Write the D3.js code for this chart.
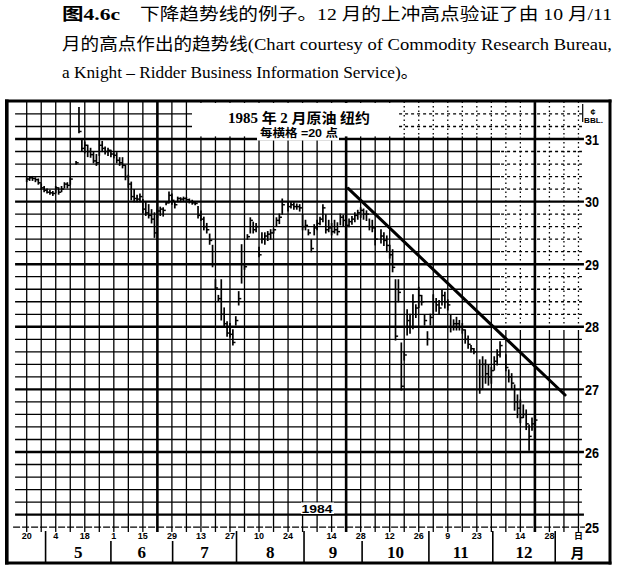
<!DOCTYPE html>
<html><head><meta charset="utf-8">
<script src="https://cdn.jsdelivr.net/npm/d3@7/dist/d3.min.js"></script>
<style>html,body{margin:0;padding:0;background:#fff;}svg{display:block}</style>
</head><body>
<svg id="chart" width="625" height="572"></svg>
<script>
// ---------------- data ----------------
const captionHead = "图4.6c";
const captionLine1 = "下降趋势线的例子。12 月的上冲高点验证了由 10 月/11";
const captionLine2 = "月的高点作出的趋势线(Chart courtesy of Commodity Research Bureau,";
const captionLine3 = "a Knight – Ridder Business Information Service)。";
const chartTitle = "1985 年 2 月原油 纽约";
const chartSubtitle = "每横格 =20 点";
const unitTop = "¢";
const unitBottom = "BBL.";
const yearLabel = "1984";
const priceTicks = [31, 30, 29, 28, 27, 26, 25];
const dayTickWeeks = [0, 2, 4, 6, 8, 10, 12, 14, 16, 18, 21, 23, 25, 27, 29, 31, 34, 36];
const dayTickLabels = ["20","4","18","1","15","29","13","27","10","24","14","28","12","26","9","23","14","28"];
const monthBounds = [1.3, 5.8, 10.05, 14.45, 19.1, 23.1, 27.7, 32.1, 36.4]; // in weeks
const monthLabels = ["5","6","7","8","9","10","11","12"];
const dayUnit = "日";
const monthUnit = "月";

// daily bars, index = trading day (null = no bar)
const highs = [
 30.38,30.40,30.40,30.38,30.36,30.28,30.24,30.20,30.18,30.16,
 30.24,30.22,30.24,30.30,30.30,30.38,null,
 30.64,31.50,30.98,
 30.95,30.90,30.85,30.79,30.75,30.98,30.96,30.87,30.85,30.82,
 30.78,30.78,30.70,30.70,30.58,30.42,30.31,30.19,30.10,30.12,
 30.03,30.00,29.95,29.87,29.82,29.88,29.91,29.90,30.00,30.15,
 30.12,29.99,30.07,30.06,30.07,30.06,30.04,30.02,30.00,29.92,
 29.85,29.75,29.65,29.48,29.30,28.75,28.50,28.75,28.30,28.08,
 28.05,27.95,28.16,28.56,29.31,28.98,29.47,29.74,29.67,29.65,
 29.27,29.50,29.50,29.52,29.55,29.56,29.74,29.80,30.04,null,
 30.00,30.00,29.98,29.96,29.95,29.79,29.70,29.55,29.39,29.63,29.70,
 29.75,29.95,29.79,29.70,29.65,29.70,29.66,29.80,29.78,29.70,
 29.72,29.76,29.82,29.86,29.90,29.88,29.85,29.72,29.70,29.60,null,
 29.55,29.50,29.45,29.30,29.23,28.75,28.75,27.74,27.60,28.27,
 28.20,28.51,28.35,28.63,28.50,28.19,27.92,28.20,28.51,28.45,
 28.42,28.59,28.55,28.43,28.19,28.11,28.15,28.10,28.05,27.95,
 27.85,27.70,27.65,null,
 27.47,27.52,27.47,27.39,27.35,27.52,27.63,27.76,null,
 27.55,27.31,27.25,27.07,26.91,26.83,26.75,26.67,26.43,26.54,26.55
];
const lows = [
 30.32,30.34,30.34,30.32,30.28,30.20,30.16,30.14,30.12,30.10,
 30.14,30.12,30.16,30.22,30.22,30.28,null,
 30.60,31.10,30.80,
 30.78,30.72,30.71,30.62,30.58,30.74,30.80,30.76,30.74,30.72,
 30.70,30.62,30.58,30.54,30.35,30.23,30.03,30.00,30.00,30.00,
 29.82,29.78,29.74,29.66,29.43,29.75,29.78,29.77,29.95,29.98,
 29.96,29.90,30.00,30.00,30.01,29.99,29.98,29.96,29.95,29.74,
 29.70,29.55,29.50,29.32,28.96,28.60,28.42,28.11,28.00,27.85,
 27.84,27.71,28.03,28.35,28.70,28.92,29.40,29.50,29.50,29.52,
 29.12,29.34,29.32,29.38,29.40,29.50,29.62,29.65,29.80,null,
 29.85,29.90,29.88,29.88,29.85,29.55,29.55,29.47,29.20,29.47,29.55,
 29.63,29.68,29.50,29.52,29.47,29.50,29.47,29.63,29.62,29.58,
 29.60,29.64,29.68,29.72,29.75,29.72,29.70,29.55,29.52,29.31,null,
 29.34,29.30,29.20,29.10,28.88,27.79,28.40,26.99,27.47,27.87,
 27.90,27.97,28.15,28.31,28.35,28.03,27.71,28.03,28.19,28.25,
 28.20,28.35,28.30,28.27,27.92,27.95,27.95,27.95,27.90,27.74,
 27.66,27.60,27.57,null,
 26.94,27.02,27.10,27.07,27.10,27.31,27.39,27.52,null,
 27.30,27.12,27.00,26.67,26.55,26.47,26.55,26.36,26.03,26.35,26.48
];
const closes = [
 30.36,30.38,30.37,30.35,30.30,30.22,30.18,30.15,30.14,30.13,
 30.22,30.15,30.20,30.28,30.26,30.36,null,
 30.62,31.12,30.85,
 30.90,30.80,30.75,30.65,30.62,30.90,30.85,30.80,30.82,30.76,
 30.74,30.66,30.62,30.58,30.40,30.28,30.08,30.05,30.04,30.08,
 29.88,29.82,29.78,29.72,29.50,29.85,29.88,29.86,29.98,30.10,
 30.02,29.95,30.05,30.04,30.05,30.03,30.00,29.98,29.97,29.78,
 29.72,29.60,29.55,29.38,29.00,28.62,28.45,28.20,28.05,27.90,
 27.88,27.75,28.10,28.45,29.00,28.96,29.44,29.70,29.55,29.60,
 29.15,29.40,29.45,29.48,29.50,29.55,29.70,29.75,29.95,null,
 29.92,29.95,29.92,29.92,29.90,29.60,29.62,29.50,29.25,29.58,29.65,
 29.72,29.90,29.55,29.58,29.52,29.55,29.52,29.75,29.70,29.62,
 29.68,29.72,29.78,29.82,29.86,29.80,29.80,29.60,29.58,29.40,null,
 29.45,29.38,29.30,29.15,28.95,27.85,28.55,27.05,27.55,28.10,
 28.00,28.40,28.30,28.50,28.40,28.10,27.80,28.15,28.40,28.35,
 28.30,28.50,28.40,28.35,28.00,28.05,28.05,28.00,27.95,27.80,
 27.72,27.65,27.60,null,
 27.00,27.40,27.25,27.20,27.30,27.45,27.55,27.70,null,
 27.35,27.20,27.10,26.80,26.70,26.55,26.60,26.45,26.25,26.45,26.51
];
const trendDays = [110.7, 185.4];
const trendPrices = [30.21, 26.91];

// ---------------- drawing ----------------
const svg = d3.select("#chart");
const x = d3.scaleLinear().domain([0, 190]).range([26.7, 26.7 + 190 * 2.904]);
const y = d3.scaleLinear().domain([26, 31]).range([452, 139]);
const wk = i => x(i * 5);

const X0 = x(-4), X1 = x(191.2);
const YT = y(31.6), YS = y(24.8);
const SERIF = "'Liberation Serif','Noto Sans CJK SC',serif";
const SANS = "'Liberation Sans','Noto Sans CJK SC',sans-serif";
const CJK = "'Liberation Serif','Noto Sans CJK SC',sans-serif";

// caption
svg.append("text").attr("x", 62).attr("y", 20).attr("font-family", CJK).attr("font-size", 17)
  .attr("font-weight", "bold").attr("textLength", 58).attr("lengthAdjust", "spacingAndGlyphs").text(captionHead);
svg.append("text").attr("x", 140).attr("y", 20).attr("font-family", CJK).attr("font-size", 17)
  .attr("textLength", 472).attr("lengthAdjust", "spacingAndGlyphs").text(captionLine1);
svg.append("text").attr("x", 62).attr("y", 50).attr("font-family", CJK).attr("font-size", 17)
  .attr("textLength", 550).attr("lengthAdjust", "spacingAndGlyphs").text(captionLine2);
svg.append("text").attr("x", 62).attr("y", 78).attr("font-family", CJK).attr("font-size", 17)
  .attr("textLength", 356).attr("lengthAdjust", "spacingAndGlyphs").text(captionLine3);

const hVals = d3.range(0, 33).map(k => +(25 + k * 0.2).toFixed(1));
const isWhole = v => Math.abs(v - Math.round(v)) < 1e-6;
const weeks = d3.range(0, 39);
const thickWeeks = new Set([9, 22, 35]);

function drawGrid(g, dashed) {
  g.selectAll(".h").data(hVals).join("line").attr("class", "h")
    .attr("x1", X0).attr("x2", d => isWhole(d) ? X1 + 2 : X1)
    .attr("y1", d => y(d)).attr("y2", d => y(d))
    .attr("stroke", "#000").attr("stroke-width", d => isWhole(d) ? 2.4 : 1.3)
    .attr("stroke-dasharray", d => (dashed && !isWhole(d)) ? "3,3" : null);
  g.selectAll(".v").data(weeks).join("line").attr("class", "v")
    .attr("x1", d => wk(d)).attr("x2", d => wk(d))
    .attr("y1", YT).attr("y2", YS + 5)
    .attr("stroke", "#000").attr("stroke-width", d => thickWeeks.has(d) ? 2.6 : 1.3)
    .attr("stroke-dasharray", d => (dashed && !thickWeeks.has(d)) ? "1.5,3" : null);
}
const gGrid = svg.append("g");
drawGrid(gGrid, false);

// lighter (dotted) grid region at upper right
const defs = svg.append("defs");
const dashRects = [[398, YT + 1.5, X1 + 3 - 398, 136.4 - YT - 1.5], [500, 136.4, X1 + 3 - 500, 330 - 136.4]];
const cp = defs.append("clipPath").attr("id", "dashclip");
dashRects.forEach(r => cp.append("rect").attr("x", r[0]).attr("y", r[1]).attr("width", r[2]).attr("height", r[3]));
dashRects.forEach(r => svg.append("rect").attr("x", r[0]).attr("y", r[1]).attr("width", r[2]).attr("height", r[3]).attr("fill", "#fff"));
const gDash = svg.append("g").attr("clip-path", "url(#dashclip)");
drawGrid(gDash, true);

// date strip line
svg.append("line").attr("x1", X0 - 2).attr("x2", X1).attr("y1", YS).attr("y2", YS)
  .attr("stroke", "#000").attr("stroke-width", 1.3).attr("stroke-dasharray", "7,2");

// title box
svg.append("rect").attr("x", 192).attr("y", YT + 1.5).attr("width", 206).attr("height", 136.4 - YT - 1.5).attr("fill", "#fff");
svg.append("rect").attr("x", 257).attr("y", 126).attr("width", 82).attr("height", 14.5).attr("fill", "#fff");
svg.append("text").attr("x", 228).attr("y", 123).attr("font-family", CJK).attr("font-size", 14)
  .attr("font-weight", "bold").attr("textLength", 142).attr("lengthAdjust", "spacingAndGlyphs").text(chartTitle);
svg.append("text").attr("x", 260).attr("y", 137).attr("font-family", SANS).attr("font-size", 11)
  .attr("font-weight", "bold").attr("textLength", 78).attr("lengthAdjust", "spacingAndGlyphs").text(chartSubtitle);

// year label
svg.append("rect").attr("x", 301).attr("y", 502.5).attr("width", 33).attr("height", 11.5).attr("fill", "#fff");
svg.append("text").attr("x", 301.5).attr("y", 513).attr("font-family", SANS).attr("font-size", 11)
  .attr("font-weight", "bold").attr("textLength", 31).attr("lengthAdjust", "spacingAndGlyphs").text(yearLabel);

// right price labels
svg.selectAll(".pl").data(priceTicks).join("text").attr("class", "pl")
  .attr("x", 585).attr("y", d => (d === 25 ? YS : y(d)) + 5.5)
  .attr("font-family", SANS).attr("font-size", 14).attr("font-weight", "bold")
  .attr("textLength", 14).attr("lengthAdjust", "spacingAndGlyphs").text(d => d);
svg.append("line").attr("x1", X1).attr("x2", X1 + 3).attr("y1", YS).attr("y2", YS).attr("stroke", "#000").attr("stroke-width", 1.3);
svg.append("line").attr("x1", 582.7).attr("x2", 582.7).attr("y1", 104).attr("y2", 122).attr("stroke", "#000").attr("stroke-width", 1.2);
svg.append("text").attr("x", 593).attr("y", 115).attr("text-anchor", "middle").attr("font-family", SANS)
  .attr("font-size", 9).attr("font-weight", "bold").text(unitTop);
svg.append("text").attr("x", 584).attr("y", 123).attr("font-family", SANS)
  .attr("font-size", 7).attr("font-weight", "bold").attr("textLength", 19).attr("lengthAdjust", "spacingAndGlyphs").text(unitBottom);

// day labels
svg.selectAll(".dl").data(dayTickWeeks).join("text").attr("class", "dl")
  .attr("x", d => wk(d)).attr("y", 539).attr("text-anchor", "middle")
  .attr("font-family", SANS).attr("font-size", 9).attr("font-weight", "bold")
  .text((d, i) => dayTickLabels[i]);
svg.append("text").attr("x", wk(38)).attr("y", 539).attr("text-anchor", "middle")
  .attr("font-family", "'Noto Sans CJK SC',sans-serif").attr("font-size", 9).attr("font-weight", "bold").text(dayUnit);

// month separators and labels
const labelXs = dayTickWeeks.map(wk);
svg.selectAll(".ms").data(monthBounds).join("line").attr("class", "ms")
  .attr("x1", d => x(d * 5)).attr("x2", d => x(d * 5))
  .attr("y1", d => labelXs.some(lx => Math.abs(lx - x(d * 5)) < 5) ? 541 : 531).attr("y2", 562)
  .attr("stroke", "#000").attr("stroke-width", 1.6);
svg.selectAll(".mn").data(monthLabels).join("text").attr("class", "mn")
  .attr("x", (d, i) => (x(monthBounds[i] * 5) + x(monthBounds[i + 1] * 5)) / 2).attr("y", 558)
  .attr("text-anchor", "middle").attr("font-family", SERIF).attr("font-size", 17).attr("font-weight", "bold")
  .text(d => d);
svg.append("text").attr("x", wk(38) - 1).attr("y", 558).attr("text-anchor", "middle")
  .attr("font-family", "'Noto Sans CJK SC',sans-serif").attr("font-size", 14).attr("font-weight", "bold").text(monthUnit);

// price bars
const bars = highs.map((h, i) => ({ i, h, l: lows[i], c: closes[i] })).filter(d => d.h != null);
const gb = svg.append("g").attr("stroke", "#000");
gb.selectAll(".hl").data(bars).join("line").attr("class", "hl")
  .attr("x1", d => x(d.i)).attr("x2", d => x(d.i))
  .attr("y1", d => y(d.h) - 0.6).attr("y2", d => y(d.l) + 0.6).attr("stroke-width", 1.7);
gb.selectAll(".cl").data(bars).join("line").attr("class", "cl")
  .attr("x1", d => x(d.i)).attr("x2", d => x(d.i) + 2.6)
  .attr("y1", d => y(d.c)).attr("y2", d => y(d.c)).attr("stroke-width", 1.5);

// trend line
svg.append("line")
  .attr("x1", x(trendDays[0])).attr("y1", y(trendPrices[0]))
  .attr("x2", x(trendDays[1])).attr("y2", y(trendPrices[1]))
  .attr("stroke", "#000").attr("stroke-width", 3).attr("stroke-linecap", "round");

// frame
const fr = svg.append("g").attr("stroke", "#000");
fr.append("line").attr("x1", 6.8).attr("x2", 6.8).attr("y1", 99.5).attr("y2", 564.5).attr("stroke-width", 3.6);
fr.append("line").attr("x1", 5).attr("x2", 611.5).attr("y1", YT - 0.4).attr("y2", YT - 0.4).attr("stroke-width", 3);
fr.append("line").attr("x1", 610).attr("x2", 610).attr("y1", 99.5).attr("y2", 564.5).attr("stroke-width", 3);
fr.append("line").attr("x1", 5).attr("x2", 611.5).attr("y1", 563).attr("y2", 563).attr("stroke-width", 2.8);
</script>
</body></html>
